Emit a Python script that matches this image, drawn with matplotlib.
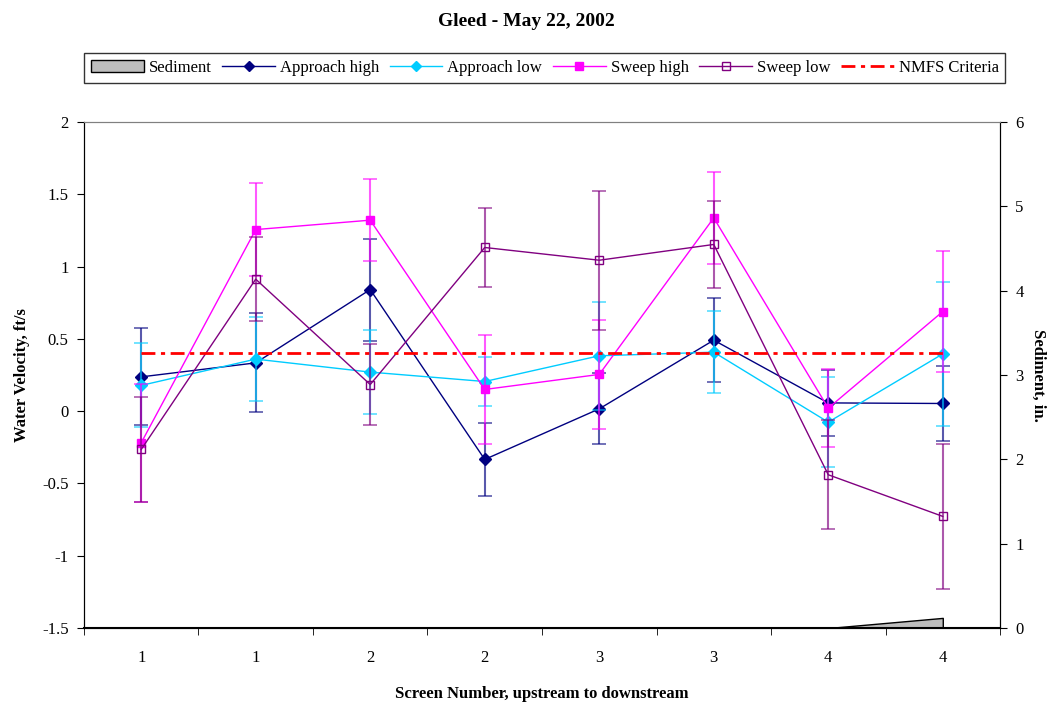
import numpy as np
import matplotlib
matplotlib.use('Agg')
import matplotlib.pyplot as plt
from matplotlib.patches import Patch
from matplotlib.lines import Line2D

plt.rcParams['font.family'] = ['Liberation Serif', 'DejaVu Serif']

# 数据
screens = ['1', '1', '2', '2', '3', '3', '4', '4']
approach_high = [0.237, 0.334, 0.841, -0.334, 0.016, 0.491, 0.057, 0.053]
approach_high_err = [0.335, 0.343, 0.353, 0.255, 0.245, 0.29, 0.23, 0.258]
approach_low = [0.178, 0.36, 0.27, 0.205, 0.383, 0.408, -0.076, 0.396]
approach_low_err = [0.29, 0.29, 0.29, 0.17, 0.375, 0.283, 0.31, 0.5]
sweep_high = [-0.219, 1.256, 1.321, 0.15, 0.254, 1.337, 0.021, 0.689]
sweep_high_err = [0.41, 0.323, 0.283, 0.38, 0.375, 0.316, 0.27, 0.42]
sweep_low = [-0.265, 0.913, 0.184, 1.132, 1.044, 1.153, -0.44, -0.728]
sweep_low_err = [0.36, 0.292, 0.28, 0.27, 0.48, 0.3, 0.378, 0.5]
nmfs = [0.4] * 8
sediment = [0, 0, 0, 0, 0, 0, 0, 0.12]

x = np.arange(len(screens))

fig = plt.figure(figsize=(10.52, 7.02), dpi=100)
ax = fig.add_axes([0.0798, 0.1054, 0.8708, 0.7208])
ax2 = ax.twinx()

# 沉积物面积图 (次坐标轴, 放在后面)
ax2.fill_between(x, 0, sediment, facecolor='#bdbdbd', edgecolor='black', linewidth=1)
ax2.set_ylim(0, 6)
ax2.set_yticks(range(0, 7))
ax2.set_ylabel('Sediment, in.', fontsize=12, fontweight='bold', rotation=270, labelpad=16)

ax.set_zorder(ax2.get_zorder() + 1)
ax.patch.set_visible(False)

series = [
    ('Approach high', approach_high, approach_high_err, '#000080', 'D', '#000080'),
    ('Approach low', approach_low, approach_low_err, '#00CCFF', 'D', '#00CCFF'),
    ('Sweep high', sweep_high, sweep_high_err, '#FF00FF', 's', '#FF00FF'),
    ('Sweep low', sweep_low, sweep_low_err, '#800080', 's', 'none'),
]
handles = [Patch(facecolor='#bdbdbd', edgecolor='black', label='Sediment')]
for name, vals, err, c, m, mfc in series:
    ax.errorbar(x, vals, yerr=err, fmt='none', ecolor=c, elinewidth=1.5,
                capsize=5, capthick=1.2, alpha=0.65)
    ax.plot(x, vals, color=c, lw=1, marker=m, markersize=6,
            markerfacecolor=mfc, markeredgecolor=c)
    handles.append(Line2D([], [], color=c, lw=1, marker=m, markersize=5.5,
                          markerfacecolor=mfc, markeredgecolor=c, label=name))

ax.plot(x, nmfs, color='#FF0000', lw=2, dashes=(5, 2, 1.5, 2))
handles.append(Line2D([], [], color='#FF0000', lw=2, dashes=(5, 2, 1.5, 2), label='NMFS Criteria'))

ax.set_xlim(-0.5, 7.5)
ax.set_ylim(-1.5, 2)
ax.set_yticks(np.arange(-1.5, 2.01, 0.5))
ax.set_yticklabels(['-1.5', '-1', '-0.5', '0', '0.5', '1', '1.5', '2'])
ax.set_xticks(x)
ax.set_xticklabels(screens)
ax.set_xticks(np.arange(-0.5, 8, 1), minor=True)
ax.tick_params(axis='x', which='major', length=0, pad=16, labelsize=12)
ax.tick_params(axis='x', which='minor', length=5, direction='out')
ax.tick_params(axis='y', length=5, direction='out', labelsize=12, pad=6)
ax2.tick_params(axis='y', length=5, direction='out', labelsize=12, pad=6)

ax.set_xlabel('Screen Number, upstream to downstream', fontsize=12, fontweight='bold', labelpad=14)
ax.set_ylabel('Water Velocity, ft/s', fontsize=12, fontweight='bold', labelpad=9)

ax.spines['top'].set_color('#808080')
ax2.spines['top'].set_color('#808080')
ax.spines['bottom'].set_linewidth(1.5)

fig.suptitle('Gleed - May 22, 2002', fontsize=14, fontweight='bold', y=0.982)

leg = fig.legend(handles=handles, loc='center', bbox_to_anchor=(0.518, 0.903), ncol=6,
                 fontsize=12, frameon=True, fancybox=False, edgecolor='black',
                 handlelength=3.15, handletextpad=0.3, columnspacing=0.65, borderpad=0.4)
leg.get_frame().set_linewidth(1)

plt.savefig('out.png', dpi=100)
plt.close()
